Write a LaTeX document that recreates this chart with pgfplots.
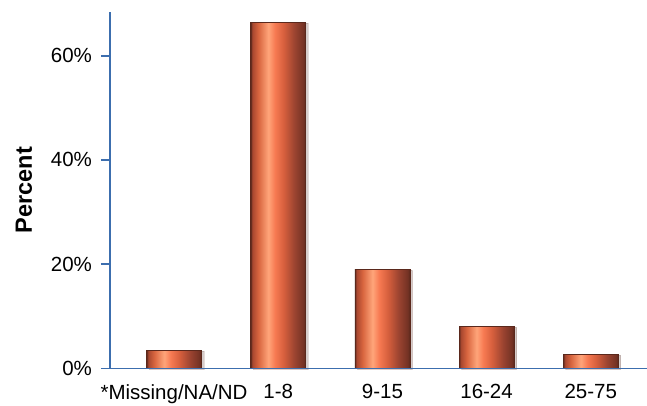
\documentclass[border=0pt]{standalone}
\usepackage{fontspec}
\setmainfont{Liberation Sans}
\usepackage{pgfplots}
\pgfplotsset{compat=1.18}
\usetikzlibrary{shadows}
\definecolor{axblue}{HTML}{3C6EAE}
\definecolor{b0}{HTML}{5A281C}
\definecolor{b1}{HTML}{A8472F}
\definecolor{b2}{HTML}{D8653F}
\definecolor{b3}{HTML}{FFA57A}
\definecolor{b4}{HTML}{F77A52}
\definecolor{b5}{HTML}{D65F3D}
\definecolor{b6}{HTML}{9A4330}
\definecolor{b7}{HTML}{743224}
\pgfdeclarehorizontalshading{barshade}{100bp}{color(0bp)=(b0); color(25bp)=(b0); color(26.5bp)=(b1); color(32bp)=(b2); color(41bp)=(b3); color(47bp)=(b4); color(55bp)=(b5); color(65bp)=(b6); color(73bp)=(b7); color(75bp)=(b0); color(100bp)=(b0)}
\pgfplotsset{onebar/.style={ybar, bar shift=0pt, bar width=55pt, draw=b0, line width=0.6pt, shading=barshade,
  drop shadow={shadow xshift=2.5pt, shadow yshift=-1pt, opacity=0.15, fill=black!60}}}
\begin{document}
\begin{tikzpicture}
\fontsize{20.5}{24}\selectfont
\begin{axis}[
  name=ax,
  scale only axis,
  width=537pt, height=356.3pt,
  xmin=-0.615, xmax=4.54,
  ymin=0, ymax=68.4,
  axis x line*=bottom,
  axis y line*=left,
  axis on top,
  axis line style={axblue, line width=1.6pt},
  xtick={0,1,2,3,4},
  xticklabels={*Missing/NA/ND,1-8,9-15,16-24,25-75},
  xtick style={draw=none},
  ytick={0,20,40,60},
  yticklabel={\pgfmathprintnumber{\tick}\%},
  ytick style={axblue, line width=1.6pt},
  tick align=outside,
  major tick length=9pt,
  /pgf/number format/assume math mode=true,
  tick label style={font=\fontsize{20.5}{24}\selectfont, text=black},
  yticklabel style={xshift=-2pt},
  ylabel={\textbf{Percent}},
  ylabel style={font=\fontsize{23.5}{26}\selectfont, yshift=5pt},
  clip=false,
]
\addplot[onebar] coordinates {(0,3.5)};
\addplot[onebar] coordinates {(1,66.4)};
\addplot[onebar] coordinates {(2,19.0)};
\addplot[onebar] coordinates {(3,8.1)};
\addplot[onebar] coordinates {(4,2.7)};
\end{axis}
\pgfresetboundingbox
\path[use as bounding box] ([xshift=-110pt, yshift=-36.7pt]ax.south west) rectangle ([yshift=12pt]ax.north east);
\end{tikzpicture}
\end{document}
